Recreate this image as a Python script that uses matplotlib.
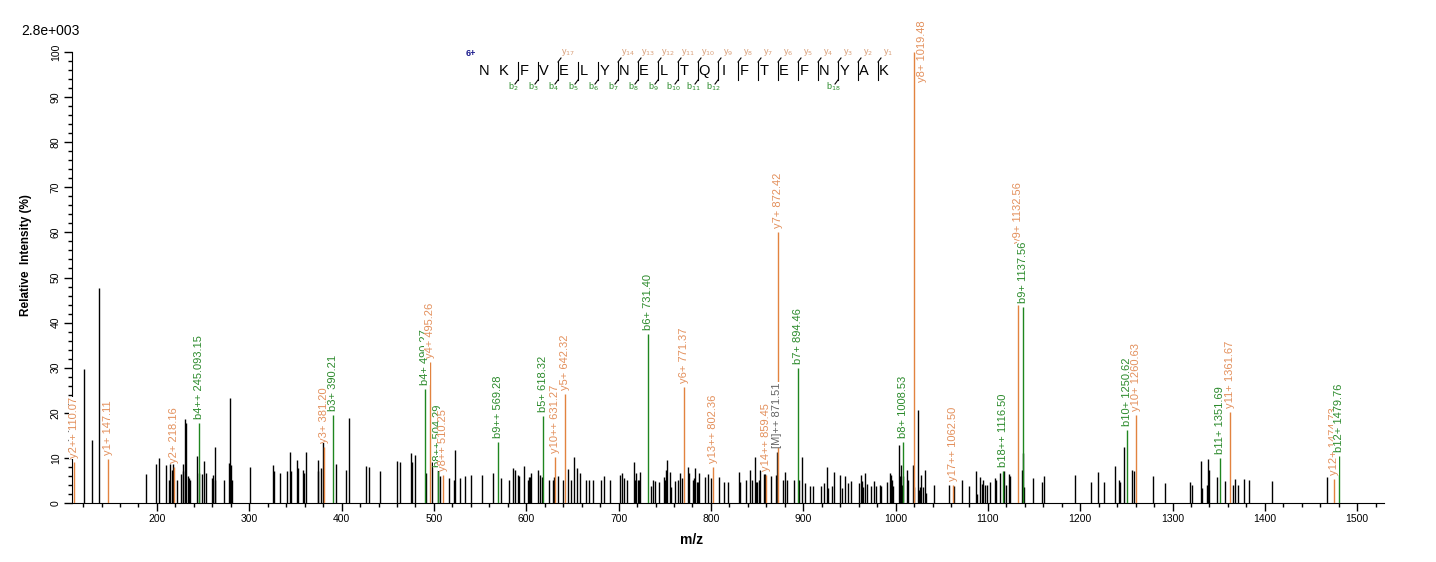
import matplotlib
matplotlib.use('Agg')
import matplotlib.pyplot as plt
from matplotlib.ticker import MultipleLocator

plt.rcParams['font.family'] = ['Liberation Sans', 'DejaVu Sans']

# unassigned peaks: m/z and relative intensity (%)
peak_mz = [121.3, 130, 137, 188, 198.6, 202.5, 210, 213.3, 214.4, 216, 217, 222,
           226.3, 227.8, 228.5, 230.7, 231.4, 234, 235, 236, 243.6, 245.8, 248.4,
           250.6, 252.7, 259.2, 260.3, 262.5, 263.2, 272.9, 278.3, 279.4, 280.5,
           281.5, 301, 326, 327, 333.5, 341, 344.3, 345.4, 352, 353, 358.4, 359.5,
           361.7, 374, 374.7, 378, 380, 393.5, 405, 408.2, 426.6, 429.2, 441.8,
           460.2, 463.4, 475.4, 476.5, 479.7, 491.6, 498, 504.3, 506.8, 516.5,
           521.3, 522.3, 527.7, 533.8, 539.7, 552.3, 564.2, 572.9, 581.5, 585.8,
           588, 591.2, 592.3, 597.7, 602, 603.1, 604.2, 605.3, 612.9, 615, 617.2,
           624.8, 629.1, 630.2, 634.5, 640, 645.4, 648.6, 651.9, 655.1, 658.4,
           664.9, 668.1, 672.4, 681.1, 684.3, 690.8, 701.7, 703.8, 706, 709.3,
           716.8, 717.9, 719, 721.2, 722.2, 723.3, 735.3, 737.4, 739.6, 743.9,
           749.3, 750.4, 751.5, 752.6, 755.8, 756.9, 761.3, 764.5, 766.7, 768.9,
           775.4, 776.4, 780.7, 781.8, 782.9, 785, 786.1, 787.2, 793.7, 796.9,
           800.2, 808.8, 814.3, 818.6, 830.5, 831.6, 838.1, 842.4, 844.6, 847.8,
           848.9, 850, 852.2, 853.2, 857.6, 858.6, 865.1, 870.6, 878.2, 880.3,
           882.5, 890, 895.5, 898.8, 902.2, 907.4, 910.7, 919.4, 922.6, 925.9,
           927, 931.2, 933.4, 939.9, 942.1, 945.3, 948.6, 951.8, 960.5, 962.6,
           963.7, 964.8, 967, 969.1, 973.5, 976.7, 978.9, 983.3, 984.3, 990.8,
           994, 995.1, 996.2, 997.3, 1003.8, 1004.9, 1006, 1007, 1008.1, 1012.5,
           1013.5, 1018.9, 1020, 1024.4, 1025.4, 1026.5, 1027.6, 1029.8, 1031.9,
           1033, 1041.7, 1057.9, 1063.3, 1072, 1079.6, 1087.2, 1088.3, 1091.5,
           1093.7, 1094.8, 1096.9, 1099.1, 1102.3, 1107.7, 1108.8, 1113.1, 1117.5,
           1119.6, 1122.9, 1124, 1137, 1138.5, 1139.2, 1148.9, 1158.7, 1160.9,
           1194.4, 1211.7, 1219.3, 1225.8, 1237.7, 1242, 1243.1, 1247.5, 1256.1,
           1258.3, 1278.8, 1291.8, 1318.9, 1321, 1330.8, 1331.9, 1337.3, 1338.4,
           1339.5, 1348.1, 1356.8, 1365.5, 1367.6, 1370.9, 1377.4, 1382.8, 1407.7,
           1467.3]
peak_int = [29.7, 14.0, 47.6, 6.5, 8.6, 9.9, 8.4, 5.1, 8.6, 7.3, 8.6, 5.0,
            6.4, 8.6, 7.0, 18.6, 17.7, 6.0, 5.5, 5.1, 10.4, 6.6, 6.4,
            9.3, 6.6, 5.6, 6.2, 5.0, 12.4, 5.0, 8.9, 23.3, 8.4,
            5.0, 8.0, 8.4, 7.1, 6.6, 7.1, 11.3, 7.1, 9.5, 7.8, 7.3, 6.6,
            11.3, 7.1, 9.5, 7.8, 15.7, 8.6, 7.3, 18.8, 8.2, 8.0, 7.0,
            9.3, 9.1, 11.0, 9.1, 10.6, 6.6, 9.1, 7.3, 6.0, 5.5,
            5.1, 11.8, 5.5, 6.0, 6.1, 6.2, 6.6, 5.5, 5.2, 7.7,
            7.3, 6.2, 6.0, 8.2, 5.2, 5.7, 5.7, 6.6, 7.3, 6.2, 5.7,
            5.2, 5.2, 5.7, 6.0, 5.2, 7.5, 5.2, 10.2, 7.7, 6.6,
            5.1, 5.1, 5.2, 5.1, 6.0, 5.2, 6.2, 6.6, 5.5, 5.2,
            9.1, 5.1, 6.6, 5.1, 5.2, 6.9, 3.8, 5.2, 4.9, 4.6,
            5.7, 5.1, 7.3, 9.5, 6.9, 3.6, 4.9, 5.2, 6.6, 5.5,
            7.9, 6.6, 5.2, 5.5, 7.8, 4.6, 4.6, 6.6, 5.7, 6.4,
            5.5, 5.7, 4.6, 4.6, 6.9, 4.6, 5.2, 7.3, 5.2, 10.3,
            4.7, 4.6, 5.2, 7.3, 6.4, 6.4, 5.9, 6.3, 5.1, 6.9,
            5.2, 5.1, 5.1, 10.3, 4.4, 3.8, 3.8, 3.8, 4.4, 7.9,
            3.3, 3.8, 6.9, 6.2, 3.4, 5.9, 4.4, 4.9, 4.5, 6.2,
            4.9, 3.6, 6.6, 4.2, 3.8, 4.9, 3.8, 4.0, 3.8, 4.6,
            6.6, 6.1, 5.2, 3.8, 12.9, 5.9, 8.4, 4.0, 5.9, 7.3,
            5.2, 8.4, 3.6, 20.6, 2.9, 3.6, 6.2, 3.6, 7.3,
            2.2, 4.0, 4.0, 3.8, 5.2, 3.8, 7.1, 2.0, 5.7,
            4.2, 5.1, 4.0, 4.0, 4.6, 5.5, 5.2, 6.6, 7.1,
            4.0, 6.4, 6.0, 7.3, 11.1, 3.6, 5.5, 4.6, 6.0,
            6.2, 4.7, 6.9, 4.6, 8.2, 5.1, 4.7, 12.5, 7.3,
            7.1, 6.0, 4.4, 4.7, 4.0, 9.3, 3.3, 4.1, 9.8,
            7.3, 5.7, 4.9, 4.1, 5.3, 4.0, 5.3, 5.1, 4.9,
            5.8]

# assigned fragment ions
ion_labels = ['y2++ 110.07', 'y1+ 147.11', 'y2+ 218.16', 'b4++ 245.093.15',
              'y3+ 381.20', 'b3+ 390.21', 'b4+ 490.27', 'y4+ 495.26',
              'b8++ 504.29', 'y8++ 510.25', 'b9++ 569.28', 'b5+ 618.32',
              'y10++ 631.27', 'y5+ 642.32', 'b6+ 731.40', 'y6+ 771.37',
              'y13++ 802.36', 'y14++ 859.45', '[M]++ 871.51', 'y7+ 872.42',
              'b7+ 894.46', 'b8+ 1008.53', 'y8+ 1019.48', 'y17++ 1062.50',
              'b18++ 1116.50', 'y9+ 1132.56', 'b9+ 1137.56', 'b10+ 1250.62',
              'y10+ 1260.63', 'b11+ 1351.69', 'y11+ 1361.67', 'y12+ 1474.73',
              'b12+ 1479.76']
ion_mz = [110.07, 147.11, 218.16, 245.09, 381.20, 390.21, 490.27, 495.26,
          504.29, 510.25, 569.28, 618.32, 631.27, 642.32, 731.40, 771.37,
          802.36, 859.45, 871.51, 872.42, 894.46, 1008.53, 1019.48, 1062.50,
          1116.50, 1132.56, 1137.56, 1250.62, 1260.63, 1351.69, 1361.67,
          1474.73, 1479.76]
ion_int = [9.0, 9.8, 8.0, 17.7, 12.4, 19.5, 25.3, 31.3,
           7.0, 6.2, 13.5, 19.3, 10.2, 24.2, 37.5, 25.7,
           8.0, 6.2, 11.3, 60.1, 30.0, 13.5, 100.0, 4.0,
           7.1, 43.9, 43.5, 16.2, 19.5, 10.0, 20.2,
           5.3, 10.4]
ion_kind = ['y', 'y', 'y', 'b', 'y', 'b', 'b', 'y', 'b', 'y', 'b', 'b', 'y', 'y',
            'b', 'y', 'y', 'y', 'm', 'y', 'b', 'b', 'y', 'y', 'b', 'y', 'b', 'b',
            'y', 'b', 'y', 'y', 'b']

sequence = 'NKFVELYNELTQIFTEFNYAK'
b_seen = [2, 3, 4, 5, 6, 7, 8, 9, 10, 11, 12, 18]
y_seen = [1, 2, 3, 4, 5, 6, 7, 8, 9, 10, 11, 12, 13, 14, 17]
charge = '6+'
base_peak = '2.8e+003'

line_col = {'y': '#e2833f', 'b': '#1f861f', 'm': '#222222'}
text_col = {'y': '#e3905c', 'b': '#2b8a2b', 'm': '#666666'}

W, H = 1436, 562
fig = plt.figure(figsize=(W / 100, H / 100), dpi=100)
ax = fig.add_axes([72 / W, 1 - 503 / H, (1384 - 72) / W, (503 - 52) / H])

ax.vlines(peak_mz, 0, peak_int, color='black', lw=1.0, zorder=2)
for lab, mz, inten, kind in sorted(zip(ion_labels, ion_mz, ion_int, ion_kind), key=lambda t: t[1]):
    ax.vlines(mz, 0, inten, color=line_col[kind], lw=1.0, zorder=3)
    # label offsets in pixels; base peak label sits beside the line, y9+ is pushed up
    off = (0, 4)
    if lab.startswith('y8+ '):
        off = (8, -30)
    elif lab.startswith('y9+ '):
        off = (0, 62)
    ax.annotate(lab, (mz, inten), xytext=off, textcoords='offset pixels',
                rotation=90, ha='center', va='bottom', fontsize=8,
                color=text_col[kind], annotation_clip=False, zorder=4,
                bbox=dict(boxstyle='square,pad=0.02', fc='white', ec='none'))

ax.set_xlim(108, 1529)
ax.set_ylim(0, 100)
ax.spines['top'].set_visible(False)
ax.spines['right'].set_visible(False)
ax.xaxis.set_major_locator(MultipleLocator(100))
ax.xaxis.set_minor_locator(MultipleLocator(20))
ax.yaxis.set_major_locator(MultipleLocator(10))
ax.yaxis.set_minor_locator(MultipleLocator(2))
ax.tick_params(which='major', length=6, width=1, labelsize=7.5, pad=2)
ax.tick_params(which='minor', length=3, width=1)
ax.tick_params(axis='y', labelrotation=90)
for t in ax.get_yticklabels():
    t.set_va('center')

# overlay in pixel coordinates for header and sequence map
ov = fig.add_axes([0, 0, 1, 1])
ov.set_xlim(0, W)
ov.set_ylim(H, 0)
ov.axis('off')
ov.patch.set_alpha(0)

ov.text(21, 31, base_peak, fontsize=10, ha='left', va='center')
ov.text(26, 255, 'Relative  Intensity (%)', rotation=90, fontsize=8.5,
        weight='bold', ha='center', va='center')
ov.text(692, 540, 'm/z', fontsize=10, weight='bold', ha='center', va='center')

x0, step = 484, 20
ov.text(471, 53, charge, fontsize=6.5, weight='bold', color='#1a1a8c',
        ha='center', va='center')
for i, aa in enumerate(sequence):
    ov.text(x0 + step * i, 71, aa, fontsize=10.5, ha='center', va='center')
n = len(sequence)
for k in range(1, n):
    has_b = k in b_seen
    has_y = (n - k) in y_seen
    if not (has_b or has_y):
        continue
    bx = x0 + step * k - 6
    ov.plot([bx, bx], [62, 80], color='black', lw=0.8)
    if has_y:
        ov.plot([bx, bx + 3], [62, 58], color='black', lw=0.8)
        ov.text(bx + 10, 52, r'y$_{%d}$' % (n - k), fontsize=6.5,
                color='#d9a07a', ha='center', va='center')
    if has_b:
        ov.plot([bx, bx - 3], [80, 84], color='black', lw=0.8)
        ov.text(bx - 5, 87, r'b$_{%d}$' % k, fontsize=6.5,
                color='#2b8a2b', ha='center', va='center')

fig.savefig('out.png', dpi=100)
